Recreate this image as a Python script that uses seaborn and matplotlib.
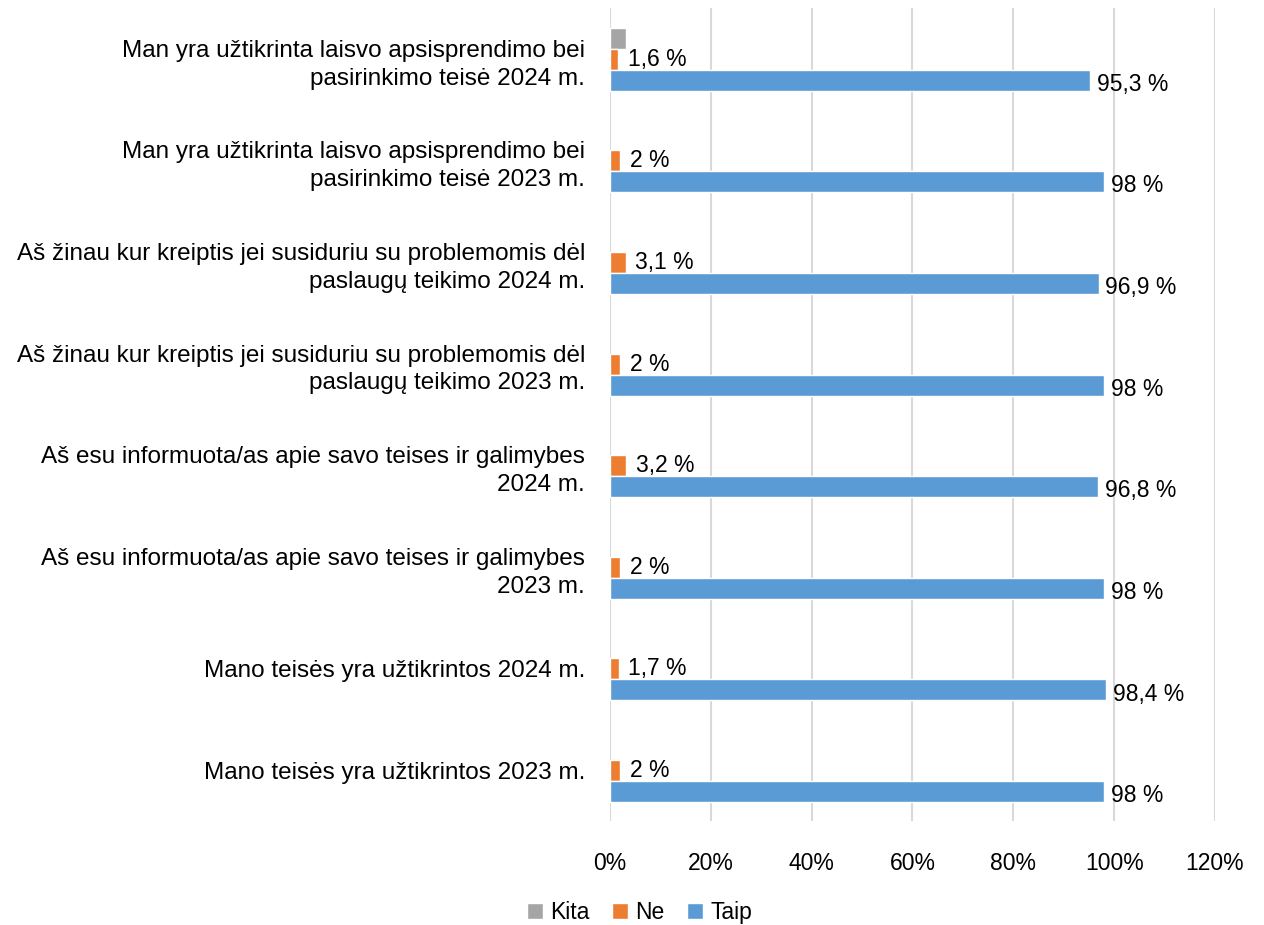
import matplotlib
matplotlib.use("Agg")
import matplotlib.pyplot as plt
import seaborn as sns
import pandas as pd
import numpy as np

categories = [
    "Man yra užtikrinta laisvo apsisprendimo bei\npasirinkimo teisė 2024 m.",
    "Man yra užtikrinta laisvo apsisprendimo bei\npasirinkimo teisė 2023 m.",
    "Aš žinau kur kreiptis jei susiduriu su problemomis dėl\npaslaugų teikimo 2024 m.",
    "Aš žinau kur kreiptis jei susiduriu su problemomis dėl\npaslaugų teikimo 2023 m.",
    "Aš esu informuota/as apie savo teises ir galimybes\n2024 m.",
    "Aš esu informuota/as apie savo teises ir galimybes\n2023 m.",
    "Mano teisės yra užtikrintos 2024 m.",
    "Mano teisės yra užtikrintos 2023 m.",
]
series_names = ["Kita", "Ne", "Taip"]
kita = [3.1, np.nan, np.nan, np.nan, np.nan, np.nan, np.nan, np.nan]
ne = [1.6, 2, 3.1, 2, 3.2, 2, 1.7, 2]
taip = [95.3, 98, 96.9, 98, 96.8, 98, 98.4, 98]
labelled = {"Kita": False, "Ne": True, "Taip": True}
colors = {"Kita": "#A5A5A5", "Ne": "#ED7D31", "Taip": "#5B9BD5"}
x_ticks = [0, 20, 40, 60, 80, 100, 120]

rows = []
for name, vals in zip(series_names, [kita, ne, taip]):
    for cat, v in zip(categories, vals):
        rows.append({"Kategorija": cat, "Atsakymas": name, "Reikšmė": v})
df = pd.DataFrame(rows)

sns.set_theme(style="white")
plt.rcParams["font.family"] = ["Liberation Sans", "DejaVu Sans"]
plt.rcParams["text.color"] = "black"

fig = plt.figure(figsize=(12.64, 9.25), dpi=100)
ax = fig.add_axes([0.4826, 0.112, 0.4786, 0.879])

sns.barplot(
    data=df, y="Kategorija", x="Reikšmė", hue="Atsakymas",
    order=categories, hue_order=series_names, palette=colors,
    orient="h", width=0.62, gap=0, saturation=1, errorbar=None, ax=ax,
)

def fmt(v):
    if np.isnan(v):
        return ""
    return f"{v:g}".replace(".", ",") + " %"

# value labels: Ne labels sit level with the bar, Taip labels a little lower
label_offset = {"Ne": (7, 0), "Taip": (5, -3)}
for cont, name in zip(ax.containers, series_names):
    if labelled[name]:
        texts = ax.bar_label(cont, labels=[fmt(b.get_width()) for b in cont],
                             padding=5, fontsize=16.5, color="black")
        for t in texts:
            t.xyann = label_offset[name]

ax.set_xlim(0, 120)
ax.set_xticks(x_ticks)
ax.set_xticklabels([f"{t}%" for t in x_ticks], fontsize=16.5, color="black")
ax.tick_params(axis="y", labelsize=17.5, length=0, pad=18, labelcolor="black")
ax.tick_params(axis="x", length=0, pad=22)
for lbl in ax.get_yticklabels():
    lbl.set_horizontalalignment("right")
    lbl.set_linespacing(1.35)
ax.set_xlabel("")
ax.set_ylabel("")
ax.grid(axis="x", color="#D9D9D9", linewidth=1.5)
ax.set_axisbelow(True)
for s in ax.spines.values():
    s.set_visible(False)

handles, labels = ax.get_legend_handles_labels()
ax.legend_.remove()
fig.legend(handles, labels, loc="center", bbox_to_anchor=(0.506, 0.014),
           ncol=3, frameon=False, fontsize=16.5, handlelength=0.7,
           handleheight=0.7, handletextpad=0.3, columnspacing=1.0)

fig.savefig("out.png", dpi=100)
